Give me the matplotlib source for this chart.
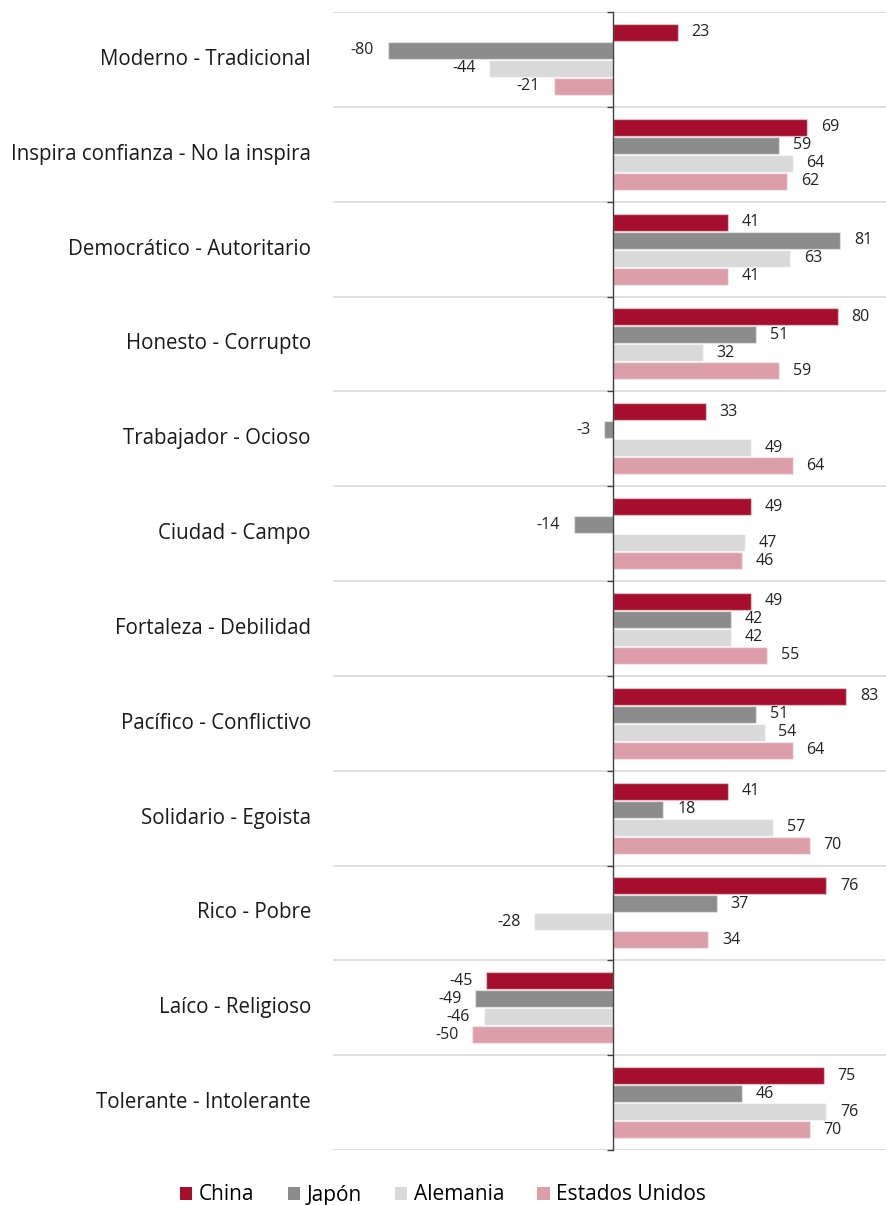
import matplotlib
matplotlib.use("Agg")
import matplotlib.pyplot as plt
from matplotlib.patches import Patch
import matplotlib.transforms as mtransforms
import numpy as np

categories = ["Moderno - Tradicional", "Inspira confianza - No la inspira",
              "Democrático - Autoritario", "Honesto - Corrupto",
              "Trabajador - Ocioso", "Ciudad - Campo", "Fortaleza - Debilidad",
              "Pacífico - Conflictivo", "Solidario - Egoista", "Rico - Pobre",
              "Laíco - Religioso", "Tolerante - Intolerante"]
series_names = ["China", "Japón", "Alemania", "Estados Unidos"]
china = [23, 69, 41, 80, 33, 49, 49, 83, 41, 76, -45, 75]
japon = [-80, 59, 81, 51, -3, -14, 42, 51, 18, 37, -49, 46]
alemania = [-44, 64, 63, 32, 49, 47, 42, 54, 57, -28, -46, 76]
eeuu = [-21, 62, 41, 59, 64, 46, 55, 64, 70, 34, -50, 70]
colors = ["#A50F2D", "#8C8C8C", "#D9D9D9", "#DC9FAA"]

plt.rcParams['font.family'] = ['Open Sans', 'DejaVu Sans']

fig = plt.figure(figsize=(8.86, 12.05), dpi=100)
ax = fig.add_axes([333/886, 1 - 1150/1205, 1 - 333/886, (1150 - 12)/1205])

n = len(categories)
y = np.arange(n)
offsets = [-0.285, -0.095, 0.095, 0.285]
all_series = [china, japon, alemania, eeuu]
for s, (vals, off, col, name) in enumerate(zip(all_series, offsets, colors, series_names)):
    ax.barh(y + off, vals, height=0.18, color=col, edgecolor=(1, 1, 1, 0.45),
            linewidth=1.0, zorder=3, label=name)
    for yi, v in zip(y + off, vals):
        if v >= 0:
            ax.annotate(str(v), (v, yi), xytext=(10, 0), textcoords="offset points",
                        ha="left", va="center", fontsize=11.5, color="#222222")
        else:
            ax.annotate(str(v), (v, yi), xytext=(-10, 0), textcoords="offset points",
                        ha="right", va="center", fontsize=11.5, color="#222222")

ax.set_xlim(-99.6, 97.2)
ax.set_ylim(n - 0.5, -0.5)

for b in np.arange(-0.5, n, 1.0):
    ax.axhline(b, color="#D9D9D9", lw=1.2, zorder=1)

for sp in ["top", "right", "bottom"]:
    ax.spines[sp].set_visible(False)
ax.spines["left"].set_position(("data", 0))
ax.spines["left"].set_color("#404040")
ax.spines["left"].set_linewidth(1.0)
ax.spines["left"].set_zorder(4)
ax.set_xticks([])
ax.set_yticks(np.arange(-0.5, n, 1.0))
ax.set_yticklabels([])
ax.tick_params(axis="y", length=4, width=1.0, color="#404040", direction="out")

trans = mtransforms.blended_transform_factory(ax.transAxes, ax.transData)
for yi, c in zip(y, categories):
    ax.text(-0.04, yi, c, transform=trans, ha="right", va="center",
            fontsize=14.8, color="#1a1a1a")

handles = [Patch(facecolor=c, edgecolor="none") for c in colors]
fig.legend(handles, series_names, loc="center", bbox_to_anchor=(0.5, 1 - 1195/1205),
           ncol=4, frameon=False, fontsize=15, handlelength=0.6, handleheight=0.6,
           handletextpad=0.3, columnspacing=1.6, borderaxespad=0)

fig.savefig("out.png", dpi=100)
